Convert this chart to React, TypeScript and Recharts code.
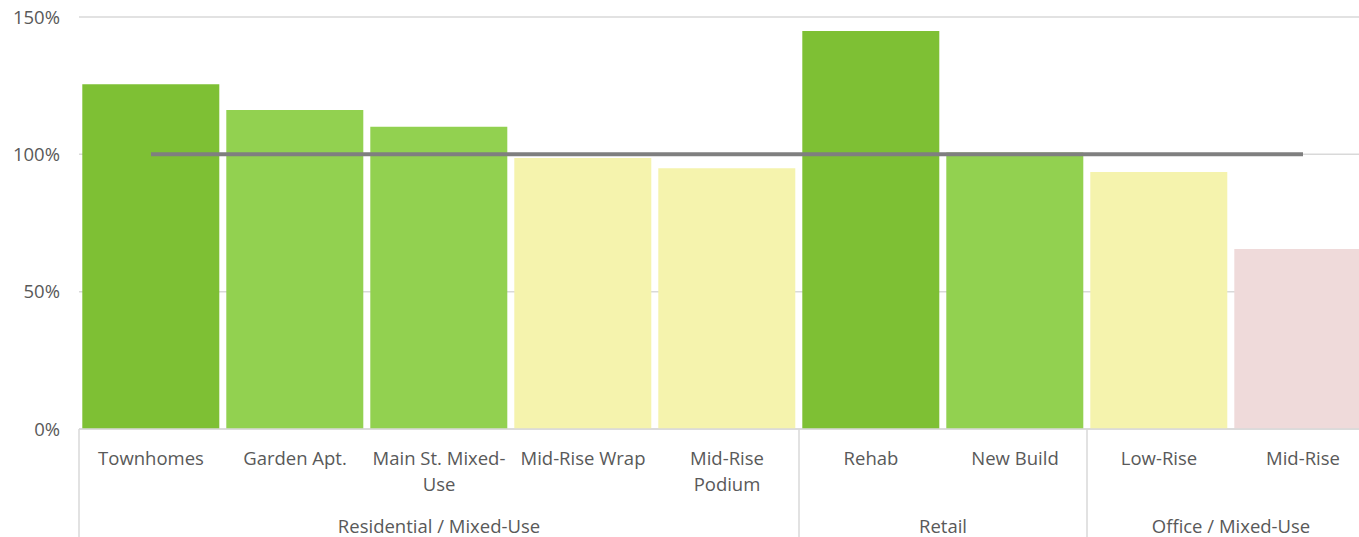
// App.tsx
// Cost-to-value ratio by building type – grouped category axis, 100% reference line.

import * as React from "react";
import { ComposedChart, Bar, Line, Cell, XAxis, YAxis, CartesianGrid } from "recharts";

const categories = [
  "Townhomes",
  "Garden Apt.",
  "Main St. Mixed-Use",
  "Mid-Rise Wrap",
  "Mid-Rise Podium",
  "Rehab",
  "New Build",
  "Low-Rise",
  "Mid-Rise",
];
const tickLabels = [
  ["Townhomes"],
  ["Garden Apt."],
  ["Main St. Mixed-", "Use"],
  ["Mid-Rise Wrap"],
  ["Mid-Rise", "Podium"],
  ["Rehab"],
  ["New Build"],
  ["Low-Rise"],
  ["Mid-Rise"],
];
const ratios = [125.5, 116.1, 110.0, 98.7, 94.9, 144.9, 100.7, 93.6, 65.5];
const tiers = ["high", "good", "good", "fair", "fair", "high", "good", "fair", "low"];
const target = [100, 100, 100, 100, 100, 100, 100, 100, 100];
const groupNames = ["Residential / Mixed-Use", "Retail", "Office / Mixed-Use"];
const groupSizes = [5, 2, 2];
const yTicks = [0, 50, 100, 150];

const tierColors: Record<string, string> = {
  high: "#7ec034",
  good: "#92d150",
  fair: "#f5f3ad",
  low: "#efdada",
};

// the plot runs past the right edge of the frame, as in the original export
const W = 1359;
const H = 537;
const AXIS_W = 79;
const BAND = 144;
const CHART_W = AXIS_W + BAND * categories.length;
const AXIS_H = 108;
const FONT = "'Open Sans', 'Noto Sans', sans-serif";
const TEXT = "#595959";
const RULE = "#d9d9d9";

const data = categories.map((name, i) => ({
  name,
  ratio: ratios[i],
  tier: tiers[i],
  target: target[i],
}));

// group start index -> group info
const groupStarts: Record<number, { name: string; size: number }> = {};
let acc = 0;
groupNames.forEach((g, i) => {
  groupStarts[acc] = { name: g, size: groupSizes[i] };
  acc += groupSizes[i];
});

// eslint-disable-next-line @typescript-eslint/no-explicit-any
const CategoryTick = (props: any) => {
  const { x, y, index } = props;
  const lines = tickLabels[index] || [];
  const grp = groupStarts[index];
  const left = x - BAND / 2;
  return (
    <g>
      {lines.map((ln: string, i: number) => (
        <text
          key={i}
          x={x}
          y={y + 36 + i * 26}
          textAnchor="middle"
          fill={TEXT}
          fontSize={18.5}
          fontFamily={FONT}
        >
          {ln}
        </text>
      ))}
      {grp && (
        <g>
          <line x1={left} x2={left} y1={y} y2={H} stroke={RULE} strokeWidth={1.5} />
          <text
            x={left + (BAND * grp.size) / 2}
            y={y + 104}
            textAnchor="middle"
            fill={TEXT}
            fontSize={18.5}
            fontFamily={FONT}
          >
            {grp.name}
          </text>
        </g>
      )}
    </g>
  );
};

const App: React.FC = () => {
  return (
    <div
      style={{
        position: "absolute",
        left: 0,
        top: 0,
        width: W,
        height: H,
        overflow: "hidden",
        background: "#fff",
      }}
    >
      <ComposedChart
        width={CHART_W}
        height={H}
        data={data}
        margin={{ top: 17, right: 0, left: 0, bottom: 0 }}
        barCategoryGap={3.3}
      >
        <CartesianGrid vertical={false} stroke={RULE} strokeWidth={1.5} />
        <XAxis
          dataKey="name"
          height={AXIS_H}
          interval={0}
          tickLine={false}
          tickSize={0}
          tickMargin={0}
          axisLine={{ stroke: RULE, strokeWidth: 1.5 }}
          tick={<CategoryTick />}
        />
        <YAxis
          width={AXIS_W}
          domain={[0, 150]}
          ticks={yTicks}
          tickFormatter={(v: number) => `${v}%`}
          axisLine={false}
          tickLine={false}
          tickSize={0}
          tickMargin={19}
          tick={{ fill: TEXT, fontSize: 18.5, fontFamily: FONT }}
        />
        <Bar dataKey="ratio" isAnimationActive={false}>
          {data.map((d, i) => (
            <Cell key={i} fill={tierColors[d.tier]} />
          ))}
        </Bar>
        <Line
          dataKey="target"
          type="linear"
          stroke="#7f7f7f"
          strokeWidth={4}
          dot={false}
          activeDot={false}
          isAnimationActive={false}
        />
      </ComposedChart>
    </div>
  );
};

export default App;
